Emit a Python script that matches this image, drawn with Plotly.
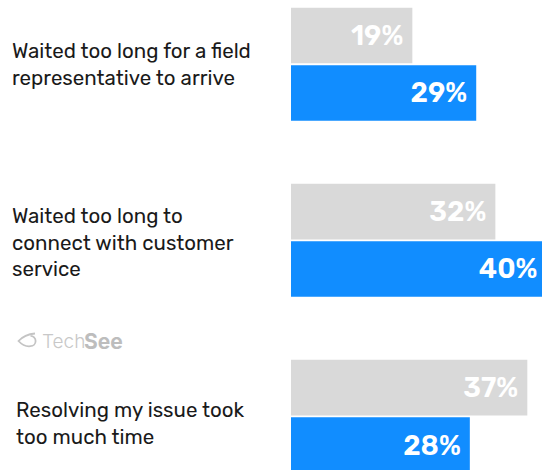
import plotly.graph_objects as go

# Survey data: share of respondents citing each frustration
categories = [
    "Waited too long for a field<br>representative to arrive",
    "Waited too long to<br>connect with customer<br>service",
    "Resolving my issue took<br>too much time",
]
previous_pct = [19, 32, 37]
current_pct = [29, 40, 28]

GRAY = "#D9D9D9"
BLUE = "#118DFF"
LABEL_FONT = "Rubik, Inter, Roboto, sans-serif"

W, H = 542, 470
LEFT = 291
positions = list(range(len(categories)))


def px_to_paper(x, y):
    """Convert page pixel coordinates to paper coordinates of the plot area."""
    return (x - LEFT) / (W - LEFT), (H - y) / H


fig = go.Figure()
for values, color, offset in ((previous_pct, GRAY, -0.322), (current_pct, BLUE, 0.004)):
    fig.add_trace(go.Bar(
        y=positions, x=values, orientation="h",
        marker=dict(color=color, line=dict(width=0)),
        width=0.316, offset=offset,
        text=[f"{v}%\u00a0" for v in values],
        textposition="inside", insidetextanchor="end",
        textfont=dict(family=LABEL_FONT, size=27.5, color="white", weight=600),
        showlegend=False, hoverinfo="skip",
    ))

# Category captions, left aligned in the margin
cat_shift_y = [0, -2, -7]
cat_shift_x = [0, 0, 4]
for i, txt in enumerate(categories):
    fig.add_annotation(
        x=0, xref="paper", xanchor="left", xshift=10 - LEFT + cat_shift_x[i],
        y=positions[i], yref="y", yanchor="middle", yshift=cat_shift_y[i],
        text=txt, align="left", showarrow=False,
        font=dict(family=LABEL_FONT, size=20.5, color="#1A1A1A"),
    )

# Brand mark: eye glyph followed by the word mark
logo_y = 341
fig.add_annotation(
    x=px_to_paper(40, 0)[0], xref="paper", xanchor="left",
    y=px_to_paper(0, logo_y)[1], yref="paper", yanchor="middle",
    text="Tech", showarrow=False,
    font=dict(family="Inter, sans-serif", size=19, color="#C8C8C8", weight=300),
)
fig.add_annotation(
    x=px_to_paper(82, 0)[0], xref="paper", xanchor="left",
    y=px_to_paper(0, logo_y)[1], yref="paper", yanchor="middle",
    text="See", showarrow=False,
    font=dict(family="Inter, sans-serif", size=21, color="#BDBDBD", weight=700),
)
eye = [
    ("M", [(35, 333.5)]),
    ("Q", [(24.5, 334.5), (18.5, 341)]),
    ("Q", [(24, 347), (30.5, 346.2)]),
    ("C", [(33.3, 346.2), (35.6, 344), (35.6, 341)]),
    ("C", [(35.6, 338.2), (33.3, 335.9), (30.5, 335.9)]),
]
path = " ".join(
    cmd + " " + " ".join("{:.5f},{:.5f}".format(*px_to_paper(x, y)) for x, y in pts)
    for cmd, pts in eye
)
fig.add_shape(
    type="path", xref="paper", yref="paper", path=path,
    line=dict(color="#C4C4C4", width=1.8),
)

fig.update_layout(
    width=W, height=H,
    margin=dict(l=LEFT, r=0, t=0, b=0),
    paper_bgcolor="white", plot_bgcolor="white",
    barmode="overlay",
    xaxis=dict(range=[0, 39.3], visible=False, fixedrange=True),
    yaxis=dict(range=[2.304, -0.366], visible=False, fixedrange=True),
)

fig.write_html("out.html", config={"displayModeBar": False})
